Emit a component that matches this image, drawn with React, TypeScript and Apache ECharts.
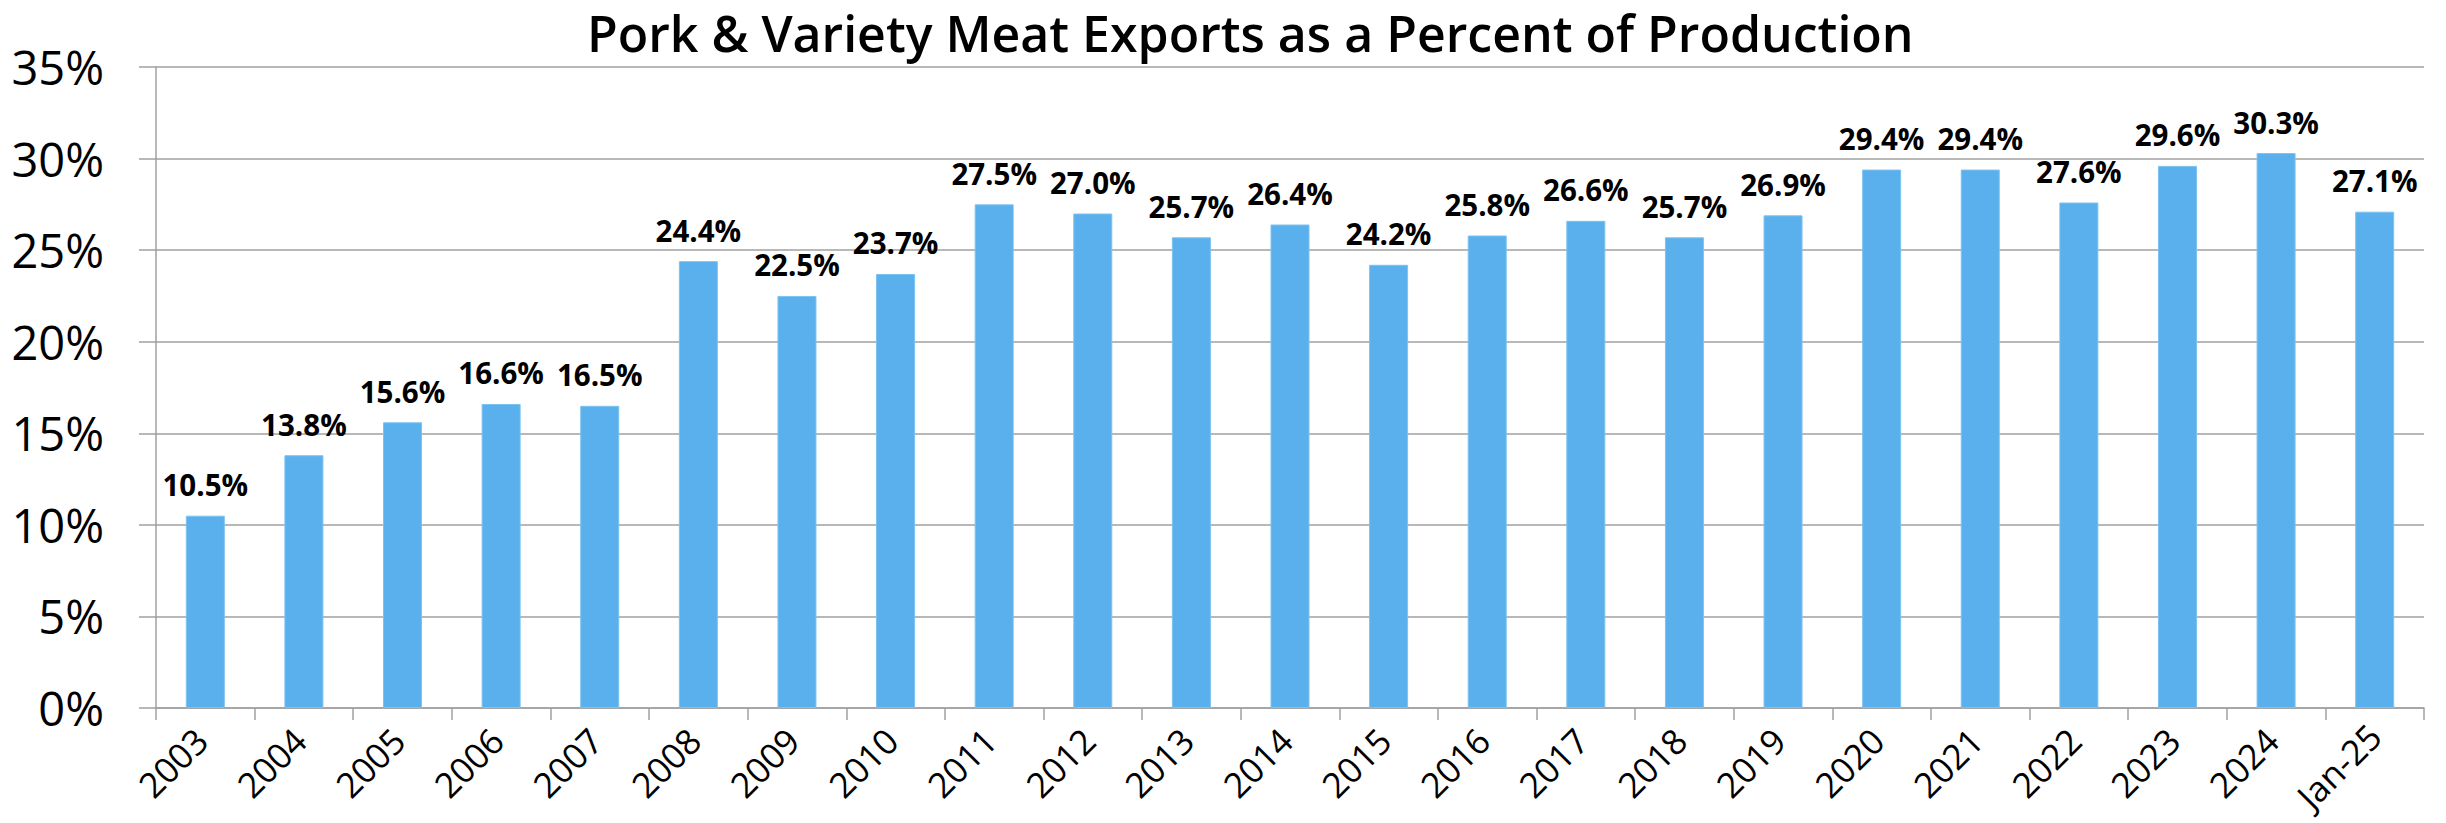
import React, { useEffect, useRef } from "react";
import * as echarts from "echarts";

const categories = [
  "2003", "2004", "2005", "2006", "2007", "2008", "2009", "2010", "2011", "2012",
  "2013", "2014", "2015", "2016", "2017", "2018", "2019", "2020", "2021", "2022",
  "2023", "2024", "Jan-25",
];
const exportShare = [
  10.5, 13.8, 15.6, 16.6, 16.5, 24.4, 22.5, 23.7, 27.5, 27.0,
  25.7, 26.4, 24.2, 25.8, 26.6, 25.7, 26.9, 29.4, 29.4, 27.6,
  29.6, 30.3, 27.1,
];
const titleText = "Pork & Variety Meat Exports as a Percent of Production";

const FONT = "'Open Sans', 'Noto Sans', sans-serif";

export default function App() {
  const ref = useRef<HTMLDivElement>(null);
  useEffect(() => {
    document.body.style.margin = "0";
    if (!ref.current) return;
    const chart = echarts.init(ref.current, undefined, { renderer: "svg" });
    const lastIdx = categories.length - 1;
    const xData = categories.map((c, i) =>
      i === lastIdx
        ? { value: c, textStyle: { lineHeight: 28 } }
        : { value: c, textStyle: { padding: [10, 6, 0, 0] } }
    );
    chart.setOption({
      animation: false,
      backgroundColor: "#ffffff",
      title: {
        text: titleText,
        left: 582,
        top: 0,
        textStyle: { fontFamily: FONT, fontSize: 50, fontWeight: 600, color: "#000", lineHeight: 56 },
      },
      grid: {
        left: 156, right: 22, top: 67, bottom: 115,
        containLabel: false,
        outerBoundsMode: "none",
      },
      xAxis: {
        type: "category",
        data: xData,
        axisLine: { lineStyle: { color: "#a0a0a0", width: 1.5 } },
        axisTick: { show: true, alignWithLabel: false, length: 12, lineStyle: { color: "#a0a0a0", width: 1.5 } },
        axisLabel: {
          rotate: 45,
          margin: 22,
          interval: 0,
          align: "right",
          verticalAlign: "top",
          fontFamily: FONT,
          fontSize: 35,
          color: "#000",
        },
      },
      yAxis: {
        type: "value",
        min: 0,
        max: 35,
        interval: 5,
        axisLine: { show: true, lineStyle: { color: "#a0a0a0", width: 1.5 } },
        axisTick: { show: true, length: 17, lineStyle: { color: "#a0a0a0", width: 1.5 } },
        splitLine: { show: true, lineStyle: { color: "#a0a0a0", width: 1.5 } },
        axisLabel: {
          formatter: (v: number) => `${v}%`,
          margin: 52,
          fontFamily: FONT,
          fontSize: 47,
          color: "#000",
        },
      },
      series: [
        {
          type: "bar",
          data: exportShare,
          barWidth: 39,
          itemStyle: { color: "#5AB0EC", borderColor: "#7cc2f0", borderWidth: 1 },
          label: {
            show: true,
            position: "top",
            distance: 16,
            formatter: (p: any) => `${Number(p.value).toFixed(1)}%`,
            fontFamily: FONT,
            fontSize: 29.5,
            fontWeight: "bold",
            color: "#000",
          },
        },
      ],
    });
    return () => chart.dispose();
  }, []);
  return <div ref={ref} style={{ width: 2446, height: 823 }} />;
}
